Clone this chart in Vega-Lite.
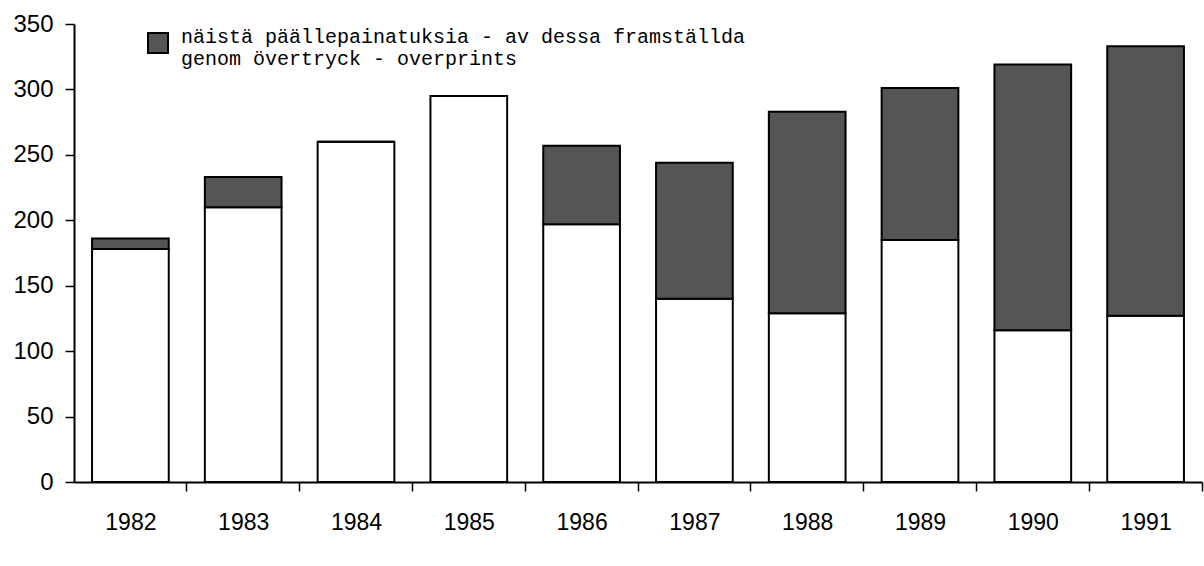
{
  "$schema": "https://vega.github.io/schema/vega-lite/v6.json",
  "autosize": "none",
  "width": 1128,
  "height": 458,
  "padding": {"left": 74, "top": 24, "right": 2, "bottom": 84},
  "background": "white",
  "config": {"view": {"stroke": null}},
  "data": {
    "values": [
      {"year": "1982", "part": "base", "value": 178},
      {"year": "1982", "part": "overprint", "value": 8},
      {"year": "1983", "part": "base", "value": 210},
      {"year": "1983", "part": "overprint", "value": 23},
      {"year": "1984", "part": "base", "value": 260},
      {"year": "1984", "part": "overprint", "value": 0},
      {"year": "1985", "part": "base", "value": 295},
      {"year": "1985", "part": "overprint", "value": 0},
      {"year": "1986", "part": "base", "value": 197},
      {"year": "1986", "part": "overprint", "value": 60},
      {"year": "1987", "part": "base", "value": 140},
      {"year": "1987", "part": "overprint", "value": 104},
      {"year": "1988", "part": "base", "value": 129},
      {"year": "1988", "part": "overprint", "value": 154},
      {"year": "1989", "part": "base", "value": 185},
      {"year": "1989", "part": "overprint", "value": 116},
      {"year": "1990", "part": "base", "value": 116},
      {"year": "1990", "part": "overprint", "value": 203},
      {"year": "1991", "part": "base", "value": 127},
      {"year": "1991", "part": "overprint", "value": 206}
    ]
  },
  "mark": {"type": "bar", "stroke": "black", "strokeWidth": 2},
  "encoding": {
    "x": {
      "field": "year",
      "type": "nominal",
      "scale": {"paddingInner": 0.32, "paddingOuter": 0.16},
      "axis": {
        "title": null,
        "labelAngle": 0,
        "labelFont": "Liberation Sans",
        "labelFontSize": 23,
        "labelColor": "black",
        "labelPadding": 20,
        "tickBand": "center",
        "tickOffset": 56,
        "labelOffset": -56,
        "tickSize": 9,
        "tickColor": "black",
        "tickWidth": 1.5,
        "domainColor": "black",
        "domainWidth": 2
      }
    },
    "y": {
      "field": "value",
      "type": "quantitative",
      "stack": "zero",
      "scale": {"domain": [0, 350], "nice": false},
      "axis": {
        "title": null,
        "values": [0, 50, 100, 150, 200, 250, 300, 350],
        "grid": false,
        "labelFont": "Liberation Sans",
        "labelFontSize": 24,
        "labelColor": "black",
        "labelPadding": 12,
        "tickSize": 9,
        "tickColor": "black",
        "tickWidth": 1.5,
        "domainColor": "black",
        "domainWidth": 2
      }
    },
    "order": {"field": "part", "sort": "ascending"},
    "color": {
      "field": "part",
      "type": "nominal",
      "scale": {"domain": ["base", "overprint"], "range": ["white", "#555555"]},
      "legend": {
        "title": null,
        "values": ["overprint"],
        "orient": "none",
        "legendX": 73,
        "legendY": 8,
        "symbolType": "square",
        "symbolSize": 400,
        "symbolStrokeColor": "black",
        "symbolStrokeWidth": 2,
        "labelFont": "Liberation Mono",
        "labelFontSize": 20,
        "labelColor": "black",
        "labelLimit": 1000,
        "labelOffset": 12,
        "labelBaseline": "alphabetic",
        "labelLineHeight": 25,
        "labelExpr": "['näistä päällepainatuksia - av dessa framställda', 'genom övertryck - overprints']"
      }
    }
  }
}
